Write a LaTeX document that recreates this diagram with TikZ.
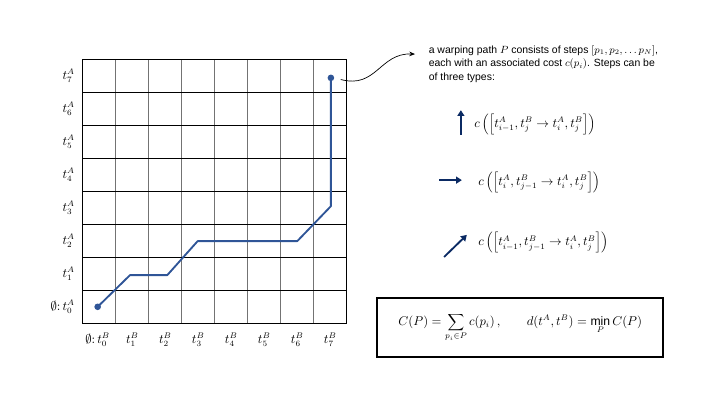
\documentclass[tikz,border=0pt]{standalone}
\usepackage{fontspec}
\setmainfont{Liberation Sans}
\usepackage{xcolor}
\usetikzlibrary{arrows.meta}
\definecolor{pathblue}{HTML}{2F5597}
\definecolor{stepnavy}{HTML}{0B2A63}

\begin{document}
\begin{tikzpicture}[
    gridlabel/.style={font=\fontsize{10.5}{12}\selectfont},
    steparrow/.style={stepnavy, line width=1.6pt, -{Triangle[length=5pt,width=6pt]}},
    costlabel/.style={anchor=west, inner sep=0pt, font=\fontsize{10.5}{12}\selectfont}
]
\useasboundingbox (-2.51,-2.23) rectangle (18.89,9.80);

% Grid
\foreach \x in {1,...,7} {
    \draw[black!55, line width=0.8pt] (\x,0) -- (\x,8);
}
\foreach \y in {1,...,7} {
    \draw[line width=0.6pt] (0,\y) -- (8,\y);
}
\draw[line width=0.7pt] (0,0) rectangle (8,8);

% Axis labels
\node[gridlabel, anchor=east] (a0) at (-0.12,0.5) {$\emptyset\colon t_0^A$};
\foreach \y in {1,...,7} {
    \node[gridlabel, anchor=east] (a\y) at (-0.12,\y+0.5) {$t_{\y}^A$};
}
\node[gridlabel] (b0) at (0.45,-0.5) {$\emptyset\colon t_0^B$};
\foreach \x in {1,...,7} {
    \node[gridlabel] (b\x) at (\x+0.5,-0.5) {$t_{\x}^B$};
}

% Warping path
\coordinate (p0) at (0.45,0.5);
\coordinate (p1) at (1.43,1.46);
\coordinate (p2) at (2.56,1.46);
\coordinate (p3) at (3.48,2.49);
\coordinate (p4) at (6.5,2.49);
\coordinate (p5) at (7.52,3.55);
\coordinate (p6) at (7.52,7.44);
\draw[pathblue, line width=1.6pt, line join=round] (p0) -- (p1) -- (p2) -- (p3) -- (p4) -- (p5) -- (p6);
\fill[pathblue] (p0) circle (0.1);
\fill[pathblue] (p6) circle (0.1);

% Explanation
\node[anchor=north west, align=left, inner sep=0pt, font=\fontsize{9}{11.5}\selectfont] (warp) at (10.48,8.42)
    {a warping path $P$ consists of steps $[p_1, p_2, \ldots p_N]$,\\
     each with an associated cost $c(p_i)$. Steps can be\\
     of three types:};
\coordinate (callout) at (7.82,7.39);
\draw[-{Stealth[length=5pt,width=4pt]}, line width=0.6pt] (callout) .. controls (8.9,7.1) and (9.0,8.2) .. ([xshift=-0.41cm,yshift=-0.26cm]warp.north west);

% Step types
\coordinate (up0) at (11.46,5.71);
\coordinate (up1) at (11.46,6.46);
\draw[steparrow] (up0) -- (up1);
\node[costlabel] (upcost) at (11.86,6.04) {$c\left(\left[t_{i-1}^A, t_j^B \rightarrow t_i^A, t_j^B\right]\right)$};

\coordinate (rt0) at (10.80,4.34);
\coordinate (rt1) at (11.49,4.34);
\draw[steparrow] (rt0) -- (rt1);
\node[costlabel] (rtcost) at (11.98,4.28) {$c\left(\left[t_i^A, t_{j-1}^B \rightarrow t_i^A, t_j^B\right]\right)$};

\coordinate (dg0) at (10.95,2.01);
\coordinate (dg1) at (11.64,2.68);
\draw[steparrow] (dg0) -- (dg1);
\node[costlabel] (dgcost) at (11.98,2.44) {$c\left(\left[t_{i-1}^A, t_{j-1}^B \rightarrow t_i^A, t_j^B\right]\right)$};

% Total cost
\node[draw, line width=1.5pt, minimum width=8.67cm, minimum height=1.79cm, font=\fontsize{10.5}{12}\selectfont] (costbox) at (13.26,-0.12)
    {$\displaystyle C(P) = \sum_{p_i\in P} c(p_i)\,, \qquad d(t^A,t^B) = \min_P C(P)$};
\end{tikzpicture}
\end{document}
